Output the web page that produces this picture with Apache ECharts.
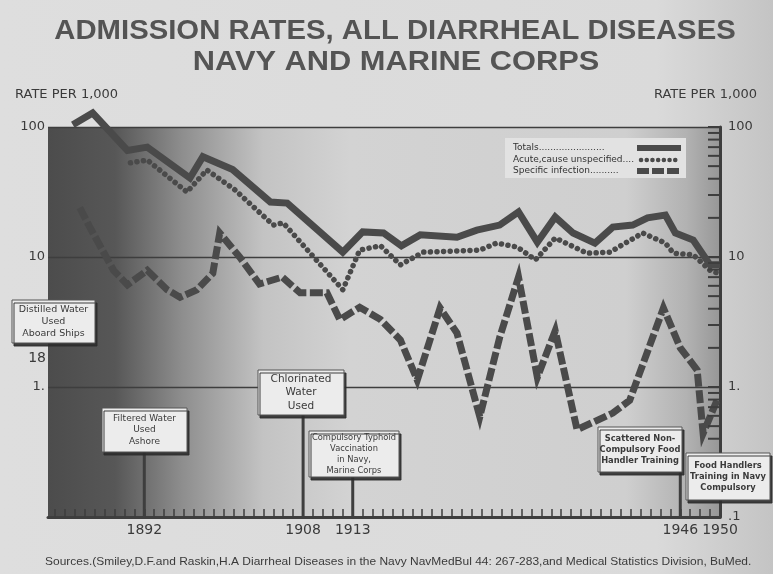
<!DOCTYPE html>
<html>
<head>
<meta charset="utf-8">
<script src="https://cdn.jsdelivr.net/npm/echarts@6/dist/echarts.min.js"></script>
<style>
html, body { margin: 0; padding: 0; background: #dadada; }
#chart { width: 773px; height: 574px; }
</style>
</head>
<body>
<div id="chart"></div>
<script>
// values (rate per 1,000, log scale)
var totalYears = [1884.8, 1886.8, 1890.3, 1892.3, 1896.6, 1897.9, 1900.9, 1904.7, 1906.4, 1912.0, 1914.0, 1916.1, 1917.9, 1919.8, 1923.5, 1925.5, 1927.8, 1929.7, 1931.6, 1933.4, 1935.2, 1937.4, 1939.2, 1941.2, 1942.7, 1944.5, 1945.5, 1947.3, 1949.0, 1950.0];
var totalRates = [104, 128, 66, 70, 40.5, 59, 47, 26.5, 26, 10.9, 15.6, 15.3, 12.2, 14.8, 14.2, 16.1, 17.6, 22.2, 13.0, 20.3, 15.3, 12.8, 17.0, 17.6, 20.0, 21.0, 15.3, 13.5, 8.7, 8.7];

var acuteYears = [1890.6, 1892.3, 1896.3, 1898.3, 1901.1, 1905.0, 1906.0, 1912.0, 1913.7, 1915.8, 1917.8, 1920.1, 1925.8, 1927.5, 1929.6, 1931.4, 1933.4, 1936.6, 1938.9, 1942.2, 1944.5, 1945.3, 1947.3, 1949.0, 1949.8];
var acuteRates = [53, 55.7, 31.6, 46.7, 33, 17.6, 18.3, 5.6, 11.3, 12.2, 8.7, 10.9, 11.3, 12.8, 11.9, 9.5, 14.0, 10.7, 10.9, 15.3, 12.8, 10.7, 10.4, 7.9, 7.5];

var specificYears = [1885.5, 1886.5, 1888.9, 1890.3, 1892.3, 1894.3, 1895.6, 1897.3, 1898.9, 1899.6, 1901.6, 1903.6, 1905.9, 1907.7, 1910.4, 1911.7, 1913.7, 1915.8, 1917.8, 1919.5, 1921.8, 1923.5, 1925.8, 1927.8, 1929.7, 1931.6, 1933.4, 1935.6, 1939.2, 1940.9, 1944.3, 1946.0, 1947.7, 1948.3, 1949.7];
var specificRates = [24, 17, 7.9, 6.1, 7.9, 5.6, 4.9, 5.6, 7.5, 15.3, 10, 6.2, 7.0, 5.3, 5.3, 3.3, 4.1, 3.3, 2.3, 1.13, 4.05, 2.6, 0.59, 2.4, 7.0, 1.19, 2.7, 0.47, 0.63, 0.79, 4.05, 2.0, 1.35, 0.44, 0.79];

var yearLabels = [1892, 1908, 1913, 1946, 1950];
var rightTickValues = [0.2, 0.3, 0.4, 0.5, 0.6, 0.7, 0.8, 0.9, 2, 3, 4, 5, 6, 7, 8, 9, 20, 30, 40, 50, 60, 70, 80, 90];
var legendNames = ['Totals', 'Acute,cause unspecified', 'Specific infection'];

var eventYears = [null, 1892, 1908, 1913, 1946, null];
var eventTexts = [
  ['Distilled Water', 'Used', 'Aboard Ships'],
  ['Filtered Water', 'Used', 'Ashore'],
  ['Chlorinated', 'Water', 'Used'],
  ['Compulsory Typhoid', 'Vaccination', 'in Navy,', 'Marine Corps'],
  ['Scattered Non-', 'Compulsory Food', 'Handler Training'],
  ['Food Handlers', 'Training in Navy', 'Compulsory']
];
// box layout (pixels)
var eventBoxes = [
  {x: 12, y: 300, w: 83, h: 43, size: 9.5, bold: false},
  {x: 102, y: 408, w: 85, h: 44, size: 9, bold: false},
  {x: 258, y: 370, w: 86, h: 45, size: 10.5, bold: false},
  {x: 309, y: 431, w: 90, h: 46, size: 8.3, bold: false},
  {x: 598, y: 427, w: 84, h: 45, size: 8.3, bold: true},
  {x: 686, y: 453, w: 84, h: 47, size: 8.3, bold: true}
];

var tickYears = [];
for (var y = 1883; y <= 1950; y++) tickYears.push(y);

function pairs(xs, ys) {
  return xs.map(function (x, i) { return [x, ys[i]]; });
}
function decadeLabel(v) {
  var p = Math.round(Math.log(v) / Math.LN10);
  return {'2': '100', '1': '10', '0': '1.', '-1': '.1'}[p];
}

var ink = '#3e3e3e';
var lineInk = '#4a4a4a';
var font = 'DejaVu Sans';

var chart = echarts.init(document.getElementById('chart'));

chart.setOption({
  backgroundColor: new echarts.graphic.LinearGradient(0, 0, 1, 0, [
    {offset: 0, color: '#dedede'}, {offset: 0.85, color: '#dadada'}, {offset: 1, color: '#c4c4c4'}
  ]),
  animation: false,
  grid: {
    left: 48, right: 53, top: 127, bottom: 57,
    show: true, borderWidth: 0,
    backgroundColor: new echarts.graphic.LinearGradient(0, 0, 1, 0, [
      {offset: 0, color: '#4c4c4c'},
      {offset: 0.1, color: '#575757'},
      {offset: 0.2, color: '#8e8e8e'},
      {offset: 0.32, color: '#c3c3c3'},
      {offset: 0.45, color: '#d3d3d3'},
      {offset: 0.86, color: '#cfcfcf'},
      {offset: 0.95, color: '#b2b2b2'},
      {offset: 1, color: '#979797'}
    ])
  },
  xAxis: {
    type: 'value', min: 1882.3, max: 1950,
    axisLine: {lineStyle: {color: ink, width: 3}},
    axisTick: {inside: true, length: 8, customValues: tickYears, lineStyle: {color: ink, width: 1.5}},
    axisLabel: {customValues: yearLabels, color: '#3a3a3a', fontFamily: font, fontSize: 14, margin: 6,
      formatter: function (v) { return String(Math.round(v)); }},
    splitLine: {show: false}
  },
  yAxis: [{
    type: 'log', logBase: 10, min: 0.1, max: 100, position: 'left',
    axisLine: {show: false}, axisTick: {show: false},
    axisLabel: {color: '#3a3a3a', fontFamily: font, fontSize: 13, margin: 3,
      formatter: function (v) { return v < 0.5 ? '' : decadeLabel(v); }},
    splitLine: {show: true, lineStyle: {color: ink, width: 1.3}}
  }, {
    type: 'log', logBase: 10, min: 0.1, max: 100, position: 'right',
    axisLine: {show: true, lineStyle: {color: ink, width: 3}},
    axisTick: {show: true, inside: true, length: 12, lineStyle: {color: ink, width: 2}},
    axisLabel: {color: '#3a3a3a', fontFamily: font, fontSize: 13, margin: 8,
      formatter: function (v) { return decadeLabel(v); }},
    splitLine: {show: false}
  }],
  series: [{
    name: legendNames[0], type: 'line', data: pairs(totalYears, totalRates),
    symbol: 'none', clip: false, z: 4,
    lineStyle: {color: lineInk, width: 7, join: 'miter'}
  }, {
    name: legendNames[1], type: 'line', data: pairs(acuteYears, acuteRates),
    symbol: 'none', clip: false, z: 3,
    lineStyle: {color: lineInk, width: 5.5, type: [0.1, 6.5], cap: 'round', join: 'round'}
  }, {
    name: legendNames[2], type: 'line', data: pairs(specificYears, specificRates),
    symbol: 'none', clip: false, z: 3,
    lineStyle: {color: lineInk, width: 7, type: [13, 3.5], join: 'miter'}
  }]
});

// annotations, legend, titles
var g = [];
g.push({type: 'text', x: 395, y: 32, scaleX: 1.085, style: {text: 'ADMISSION RATES, ALL DIARRHEAL DISEASES', fill: '#545454',
  font: 'bold 27px "Liberation Sans"', align: 'center', verticalAlign: 'middle'}});
g.push({type: 'text', x: 396, y: 63, scaleX: 1.14, style: {text: 'NAVY AND MARINE CORPS', fill: '#545454',
  font: 'bold 27px "Liberation Sans"', align: 'center', verticalAlign: 'middle'}});
g.push({type: 'text', x: 15, y: 95, style: {text: 'RATE PER 1,000', fill: '#3a3a3a',
  font: '13px "DejaVu Sans"', verticalAlign: 'middle'}});
g.push({type: 'text', x: 757, y: 95, style: {text: 'RATE PER 1,000', fill: '#3a3a3a',
  font: '13px "DejaVu Sans"', align: 'right', verticalAlign: 'middle'}});
g.push({type: 'text', x: 46, y: 358, style: {text: '18', fill: '#3a3a3a',
  font: '14px "DejaVu Sans"', align: 'right', verticalAlign: 'middle'}});
g.push({type: 'text', x: 45, y: 562, scaleX: 1.14, style: {text: 'Sources.(Smiley,D.F.and Raskin,H.A Diarrheal Diseases in the Navy NavMedBul 44: 267-283,and Medical Statistics Division, BuMed.',
  fill: '#3a3a3a', font: '10.5px "Liberation Sans"', verticalAlign: 'middle'}});

// right axis minor ticks
var axisX = chart.convertToPixel({xAxisIndex: 0}, 1950);
rightTickValues.forEach(function (v) {
  var py = chart.convertToPixel({yAxisIndex: 1}, v);
  g.push({type: 'line', z: 5, shape: {x1: axisX - 12, y1: py, x2: axisX, y2: py},
    style: {stroke: ink, lineWidth: 2}});
});

// legend
g.push({type: 'rect', z: 2, shape: {x: 505, y: 138, width: 181, height: 40}, style: {fill: '#e2e2e2'}});
var legendDots = ['.......................', '....', '..........'];
[148, 160, 171].forEach(function (ly, i) {
  g.push({type: 'text', z: 6, x: 513, y: ly, style: {text: legendNames[i] + legendDots[i],
    fill: '#333', font: '9px "DejaVu Sans"', verticalAlign: 'middle'}});
});
g.push({type: 'line', z: 6, shape: {x1: 637, y1: 148, x2: 681, y2: 148}, style: {stroke: lineInk, lineWidth: 6}});
g.push({type: 'line', z: 6, shape: {x1: 641, y1: 160, x2: 680, y2: 160},
  style: {stroke: lineInk, lineWidth: 4.5, lineDash: [0.1, 5.6], lineCap: 'round'}});
g.push({type: 'line', z: 6, shape: {x1: 637, y1: 171, x2: 681, y2: 171},
  style: {stroke: lineInk, lineWidth: 6, lineDash: [12, 3]}});

// event stems and boxes
var baseY = chart.convertToPixel({yAxisIndex: 0}, 0.1);
eventTexts.forEach(function (lines, i) {
  var b = eventBoxes[i];
  if (eventYears[i] !== null) {
    var sx = chart.convertToPixel({xAxisIndex: 0}, eventYears[i]);
    g.push({type: 'line', z: 7, shape: {x1: sx, y1: b.y + b.h, x2: sx, y2: baseY},
      style: {stroke: ink, lineWidth: 3}});
  }
  g.push({type: 'rect', z: 8, shape: {x: b.x, y: b.y, width: b.w, height: b.h},
    style: {fill: '#ececec', stroke: '#555', lineWidth: 1,
      shadowColor: 'rgba(45,45,45,0.9)', shadowOffsetX: 2, shadowOffsetY: 3, shadowBlur: 0}});
  g.push({type: 'text', z: 9, x: b.x + b.w / 2, y: b.y + b.h / 2,
    style: {text: lines.join('\n'), fill: '#3a3a3a', align: 'center', verticalAlign: 'middle',
      lineHeight: b.size + 2.8, font: (b.bold ? 'bold ' : '') + b.size + 'px "DejaVu Sans"'}});
});

chart.setOption({graphic: g});
</script>
</body>
</html>
